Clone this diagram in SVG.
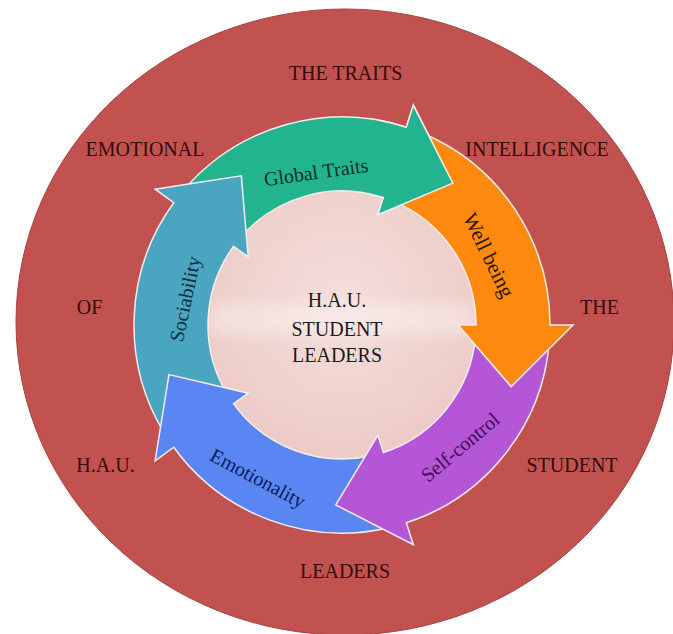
<svg xmlns="http://www.w3.org/2000/svg" width="673" height="634" viewBox="0 0 673 634">
  <defs>
    <radialGradient id="hubFill" cx="50%" cy="42%" r="62%">
      <stop offset="0" stop-color="#f4dfdc"/>
      <stop offset="1" stop-color="#ecc9c5"/>
    </radialGradient>
    <filter id="soft" x="-20%" y="-150%" width="140%" height="400%">
      <feGaussianBlur stdDeviation="8"/>
    </filter>
    <clipPath id="hubClip">
      <circle cx="342" cy="325" r="136"/>
    </clipPath>
    <!-- wedge around the Global Traits head so it sits above the Well being tail -->
    <clipPath id="headWedge">
      <path d="M342,325 L387.15,68.95 L464.06,95.43 L525.85,141.15 Z"/>
    </clipPath>
  </defs>
  <style>
    .ring-label { font-family: "Liberation Serif", "Times New Roman", serif; font-size: 20px; fill: #350b0b; text-anchor: middle; }
    .hub-label { font-family: "Liberation Serif", "Times New Roman", serif; font-size: 20px; fill: #1e1a1a; text-anchor: middle; }
    .arrow-label { font-family: "Liberation Serif", "Times New Roman", serif; font-size: 20px; text-anchor: middle; }
    .arrow { stroke: #f3eded; stroke-width: 1.5; stroke-linejoin: miter; }
  </style>

  <!-- outer ring of trait words -->
  <g id="outer-disc">
    <ellipse cx="345" cy="322" rx="329" ry="313" fill="#c1524f" stroke="#a84240" stroke-width="1"/>
    <text class="ring-label" x="345.5" y="80">THE TRAITS</text>
    <text class="ring-label" x="145" y="156">EMOTIONAL</text>
    <text class="ring-label" x="537" y="156">INTELLIGENCE</text>
    <text class="ring-label" x="89.5" y="314">OF</text>
    <text class="ring-label" x="599.5" y="314">THE</text>
    <text class="ring-label" x="105.5" y="472">H.A.U.</text>
    <text class="ring-label" x="572" y="472">STUDENT</text>
    <text class="ring-label" x="345" y="578">LEADERS</text>
  </g>

  <!-- centre hub -->
  <g id="hub">
    <circle cx="342" cy="325" r="136" fill="url(#hubFill)"/>
    <rect x="210" y="303" width="265" height="32" fill="#ffffff" opacity="0.35" filter="url(#soft)" clip-path="url(#hubClip)"/>
    <text class="hub-label" x="337" y="307">H.A.U.</text>
    <text class="hub-label" x="337" y="336">STUDENT</text>
    <text class="hub-label" x="337" y="362">LEADERS</text>
  </g>

  <!-- cycle of curved arrows -->
  <g id="connectors">
    <g id="global-traits">
      <path id="arrowGlobal" class="arrow" fill="#22b38f" d="M185.02,188.53 A208,208 0 0 1 406.27,127.17 L413.38,105.30 L452.83,183.16 L377.84,214.67 L383.41,197.55 A134,134 0 0 0 240.87,237.08 Z"/>
    </g>
    <g id="sociability">
      <path class="arrow" fill="#4aa5c1" d="M163.70,432.12 A208,208 0 0 1 173.73,202.74 L155.12,189.22 L241.34,175.78 L248.16,256.82 L233.59,246.23 A134,134 0 0 0 227.14,394.01 Z"/>
    </g>
    <g id="emotionality">
      <path class="arrow" fill="#5a86f4" d="M388.80,527.68 A208,208 0 0 1 173.73,447.26 L155.12,460.78 L168.97,374.61 L248.16,393.18 L233.59,403.77 A134,134 0 0 0 372.15,455.57 Z"/>
    </g>
    <g id="self-control">
      <path class="arrow" fill="#b556d6" d="M549.21,343.14 A208,208 0 0 1 406.27,522.83 L413.38,544.70 L335.72,504.89 L377.84,435.33 L383.41,452.45 A134,134 0 0 0 475.49,336.68 Z"/>
    </g>
    <g id="well-being">
      <path class="arrow" fill="#fd8a0e" d="M423.27,133.54 A208,208 0 0 1 550,325 L573,325 L511.15,386.56 L458,325 L476,325 A134,134 0 0 0 394.35,201.65 Z"/>
    </g>
    <use href="#arrowGlobal" clip-path="url(#headWedge)"/>
  </g>

  <!-- arrow captions -->
  <g id="arrow-labels">
    <text class="arrow-label" fill="#0c2e25" transform="translate(316,172) rotate(-8)" dy="0.35em">Global Traits</text>
    <text class="arrow-label" fill="#2b1400" transform="translate(489,255) rotate(64)" dy="0.35em" style="font-size:21px">Well being</text>
    <text class="arrow-label" fill="#3d0f55" transform="translate(460,447) rotate(-40)" dy="0.35em">Self-control</text>
    <text class="arrow-label" fill="#0b1a5a" transform="translate(258,478) rotate(28)" dy="0.35em">Emotionality</text>
    <text class="arrow-label" fill="#0e2f3f" transform="translate(185,299) rotate(-78)" dy="0.35em">Sociability</text>
  </g>
</svg>
